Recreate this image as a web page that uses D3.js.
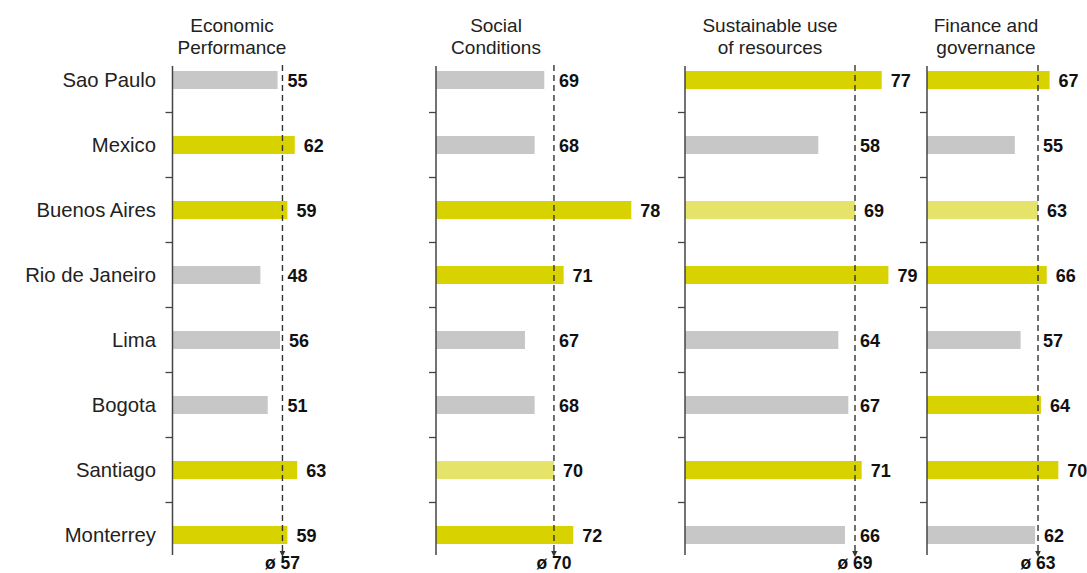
<!DOCTYPE html>
<html>
<head>
  <meta charset="utf-8">
  <title>Latin American cities index</title>
  <script src="https://d3js.org/d3.v7.min.js"></script>
  <style>
    body { margin: 0; background: #fff; }
    text { font-family: "Liberation Sans", Arial, Helvetica, sans-serif; }
  </style>
</head>
<body>
<script>
// data
var cities = ["Sao Paulo", "Mexico", "Buenos Aires", "Rio de Janeiro", "Lima", "Bogota", "Santiago", "Monterrey"];
var headers = [["Economic", "Performance"], ["Social", "Conditions"], ["Sustainable use", "of resources"], ["Finance and", "governance"]];
var economic  = [55, 62, 59, 48, 56, 51, 63, 59];
var social    = [69, 68, 78, 71, 67, 68, 70, 72];
var resources = [77, 58, 69, 79, 64, 67, 71, 66];
var finance   = [67, 55, 63, 66, 57, 64, 70, 62];
var averages  = [57, 70, 69, 63];
var series = [economic, social, resources, finance];

// layout of each panel (axis position and value window)
var panels = [
  { x0: 172.5, lo: 12.2, hi: 63, x1: 297.2, hx: 232 },
  { x0: 436,   lo: 57.8, hi: 78, x1: 631.3, hx: 496 },
  { x0: 685,   lo: 18.1, hi: 79, x1: 888.4, hx: 770 },
  { x0: 927,   lo: 24.7, hi: 70, x1: 1058.3, hx: 986 }
];

var width = 1087, height = 573;
var svg = d3.select("body").append("svg").attr("width", width).attr("height", height);

var y = d3.scaleBand().domain(cities).range([47.5, 567.5]);
var barH = 18;

// city labels
svg.selectAll("text.city")
  .data(cities)
  .enter().append("text")
  .attr("class", "city")
  .attr("x", 156)
  .attr("y", function(d) { return y(d) + y.bandwidth() / 2 + 7; })
  .attr("text-anchor", "end")
  .attr("font-size", 20.3)
  .attr("fill", "#222")
  .text(function(d) { return d; });

function barColor(v, avg) {
  if (v > avg) return "#d8d200";
  if (v === avg) return "#e5e36a";
  return "#c6c7c6";
}

panels.forEach(function(p, i) {
  var vals = series[i];
  var avg = averages[i];
  var x = d3.scaleLinear().domain([p.lo, p.hi]).range([p.x0, p.x1]);
  var g = svg.append("g");

  // header
  var h = g.append("text")
    .attr("x", p.hx)
    .attr("text-anchor", "middle")
    .attr("font-size", 19)
    .attr("fill", "#222");
  headers[i].forEach(function(line, k) {
    h.append("tspan").attr("x", p.hx).attr("y", 32 + k * 21.5).text(line);
  });

  // bars
  g.selectAll("rect")
    .data(vals)
    .enter().append("rect")
    .attr("x", p.x0)
    .attr("y", function(d, k) { return y(cities[k]) + y.bandwidth() / 2 - barH / 2; })
    .attr("width", function(d) { return x(d) - p.x0; })
    .attr("height", barH)
    .attr("fill", function(d) { return barColor(d, avg); });

  // axis line and ticks between rows
  var cTop = y(cities[0]) + y.bandwidth() / 2;
  var cBot = y(cities[cities.length - 1]) + y.bandwidth() / 2;
  g.append("line")
    .attr("x1", p.x0).attr("x2", p.x0)
    .attr("y1", cTop - 14).attr("y2", cBot + 20)
    .attr("stroke", "#444").attr("stroke-width", 1.5);
  g.selectAll("line.tick")
    .data(cities.slice(1))
    .enter().append("line")
    .attr("class", "tick")
    .attr("x1", p.x0 - 7).attr("x2", p.x0)
    .attr("y1", function(d) { return y(d); })
    .attr("y2", function(d) { return y(d); })
    .attr("stroke", "#444").attr("stroke-width", 1.3);

  // average line
  var ax = x(avg);
  g.append("line")
    .attr("x1", ax).attr("x2", ax)
    .attr("y1", cTop - 15).attr("y2", cBot + 16)
    .attr("stroke", "#333").attr("stroke-width", 1.4)
    .attr("stroke-dasharray", "6,4");
  g.append("path")
    .attr("d", "M" + (ax - 2.8) + "," + (cBot + 16) + "L" + (ax + 2.8) + "," + (cBot + 16) + "L" + ax + "," + (cBot + 22) + "Z")
    .attr("fill", "#333");
  g.append("text")
    .attr("x", ax)
    .attr("y", 568.5)
    .attr("text-anchor", "middle")
    .attr("font-size", 17.5)
    .attr("font-weight", "bold")
    .attr("fill", "#111")
    .text("ø " + avg);

  // value labels
  g.selectAll("text.val")
    .data(vals)
    .enter().append("text")
    .attr("class", "val")
    .attr("x", function(d) { return Math.max(x(d) + 9, ax + 5); })
    .attr("y", function(d, k) { return y(cities[k]) + y.bandwidth() / 2 + 6.5; })
    .attr("font-size", 18)
    .attr("font-weight", "bold")
    .attr("fill", "#111")
    .text(function(d) { return d; });
});
</script>
</body>
</html>
